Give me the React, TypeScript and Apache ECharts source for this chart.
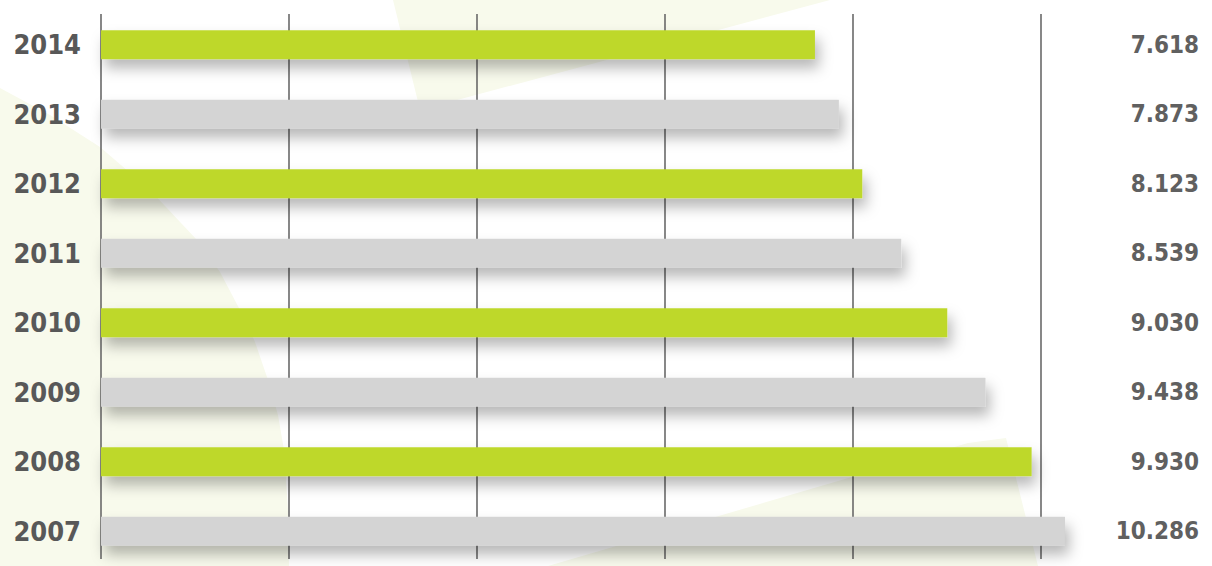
import React, { useEffect, useRef } from "react";
import * as echarts from "echarts";

// Data (bottom to top)
const years: string[] = ["2007", "2008", "2009", "2010", "2011", "2012", "2013", "2014"];
const values: number[] = [10286, 9930, 9438, 9030, 8539, 8123, 7873, 7618];
const axisTicks: number[] = [0, 2000, 4000, 6000, 8000, 10000];

const GREEN = "#bed82c";
const GRAY = "#d4d4d4";
const BG_SHAPE = "#f8faec";

const fmt = (v: number) => {
  const s = String(v);
  return s.length > 3 ? s.slice(0, s.length - 3) + "." + s.slice(s.length - 3) : s;
};

const FONT = "'DejaVu Sans Condensed', 'DejaVu Sans', sans-serif";

export default function App() {
  const ref = useRef<HTMLDivElement>(null);
  useEffect(() => {
    if (!ref.current) return;
    const chart = echarts.init(ref.current, null, { renderer: "svg" });
    const option: any = {
      animation: false,
      backgroundColor: "#ffffff",
      graphic: [
        {
          type: "polygon",
          z: -100,
          silent: true,
          shape: {
            points: [
              [0, 566], [0, 88], [50, 115], [100, 147], [150, 190], [197, 240], [220, 272],
              [240, 310], [255, 342], [268, 380], [278, 415], [284, 450], [288, 510], [289, 566],
            ],
          },
          style: { fill: BG_SHAPE },
        },
        {
          type: "polygon",
          z: -100,
          silent: true,
          shape: { points: [[393, 0], [830, 0], [420, 110]] },
          style: { fill: BG_SHAPE },
        },
        {
          type: "polygon",
          z: -100,
          silent: true,
          shape: { points: [[548, 566], [968, 443], [1006, 438], [1038, 566]] },
          style: { fill: BG_SHAPE },
        },
      ],
      grid: [
        { left: 101, right: 171, top: 10, height: 560, containLabel: false },
        { left: 101, right: 171, top: 14, bottom: 7, containLabel: false },
      ],
      xAxis: [
        {
          gridIndex: 0,
          type: "value",
          min: 0,
          max: 10030,
          show: false,
          splitLine: { show: false },
        },
        {
          gridIndex: 1,
          type: "value",
          min: axisTicks[0],
          max: axisTicks[axisTicks.length - 1],
          interval: axisTicks[1] - axisTicks[0],
          axisLine: { show: false },
          axisTick: { show: false },
          axisLabel: { show: false },
          splitLine: { show: true, lineStyle: { color: "#6a6a6a", width: 1.6 } },
        },
      ],
      yAxis: [
        {
          gridIndex: 0,
          type: "category",
          data: years,
          position: "left",
          axisLine: { show: false },
          axisTick: { show: false },
          splitLine: { show: false },
          axisLabel: {
            margin: 20,
            color: "#585858",
            fontFamily: FONT,
            fontWeight: "bold",
            fontSize: 27,
          },
        },
        {
          gridIndex: 0,
          type: "category",
          data: years,
          position: "right",
          axisLine: { show: false },
          axisTick: { show: false },
          splitLine: { show: false },
          axisLabel: {
            margin: 158,
            align: "right",
            color: "#606060",
            fontFamily: FONT,
            fontWeight: "bold",
            fontSize: 24,
            formatter: (_v: string, i: number) => fmt(values[i]),
          },
        },
        {
          gridIndex: 1,
          type: "value",
          show: false,
          min: 0,
          max: 1,
        },
      ],
      series: [
        {
          type: "bar",
          xAxisIndex: 0,
          yAxisIndex: 0,
          barWidth: 29,
          clip: false,
          data: values.map((v, i) => ({
            value: v,
            itemStyle: { color: Number(years[i]) % 2 === 0 ? GREEN : GRAY },
          })),
          itemStyle: {
            shadowBlur: 14,
            shadowOffsetX: 4,
            shadowOffsetY: 9,
            shadowColor: "rgba(0,0,0,0.28)",
          },
        },
        {
          type: "scatter",
          xAxisIndex: 1,
          yAxisIndex: 2,
          data: [],
        },
      ],
    };
    chart.setOption(option);
    return () => chart.dispose();
  }, []);
  return (
    <div
      ref={ref}
      style={{ position: "fixed", left: 0, top: 0, width: 1212, height: 566 }}
    />
  );
}
